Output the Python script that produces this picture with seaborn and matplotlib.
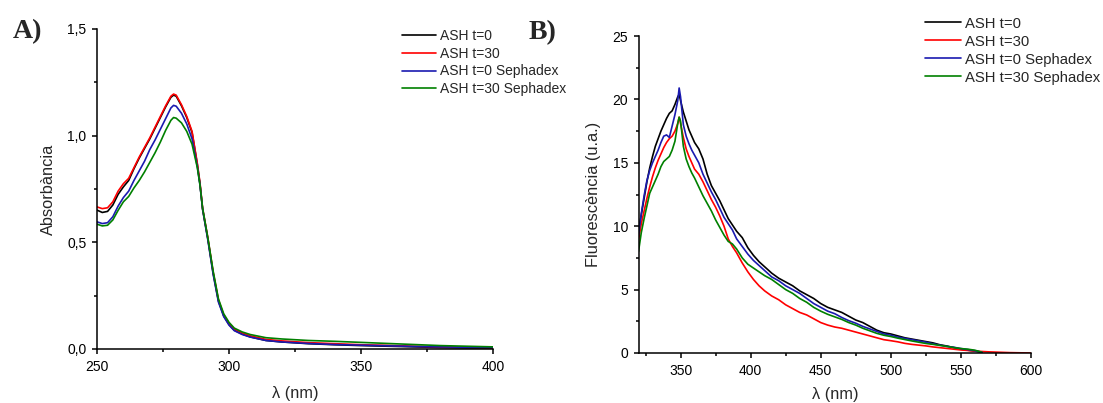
import numpy as np
import pandas as pd
import matplotlib
matplotlib.use("Agg")
import matplotlib.pyplot as plt
from matplotlib.ticker import MultipleLocator, FuncFormatter
import seaborn as sns

# ---- series definitions -------------------------------------------------
series_labels = ["ASH t=0", "ASH t=30", "ASH t=0 Sephadex", "ASH t=30 Sephadex"]
series_colors = ["#000000", "#ff0000", "#1a1ab0", "#008000"]

# ---- A) UV absorbance spectra ------------------------------------------
abs_wavelength = [250, 252, 254, 256, 258, 260, 262, 264, 266, 268, 270, 272, 274,
                  276, 278, 279, 280, 282, 284, 286, 288, 289, 290, 292, 294, 296,
                  298, 300, 302, 305, 308, 314, 320, 330, 340, 350, 360, 370, 380,
                  390, 400]
abs_t0 = [0.651, 0.640, 0.645, 0.675, 0.725, 0.760, 0.790, 0.845, 0.895, 0.940,
          0.985, 1.035, 1.085, 1.135, 1.180, 1.190, 1.185, 1.140, 1.085, 1.015,
          0.865, 0.775, 0.655, 0.515, 0.355, 0.225, 0.155, 0.115, 0.088, 0.070,
          0.057, 0.040, 0.033, 0.025, 0.020, 0.016, 0.013, 0.010, 0.007, 0.005,
          0.004]
abs_t30 = [0.666, 0.658, 0.662, 0.690, 0.740, 0.775, 0.800, 0.850, 0.900, 0.945,
           0.990, 1.040, 1.090, 1.140, 1.185, 1.195, 1.190, 1.145, 1.090, 1.020,
           0.870, 0.780, 0.660, 0.520, 0.360, 0.230, 0.160, 0.120, 0.093, 0.075,
           0.062, 0.045, 0.038, 0.030, 0.025, 0.020, 0.017, 0.013, 0.010, 0.008,
           0.006]
abs_t0_seph = [0.596, 0.588, 0.592, 0.620, 0.670, 0.710, 0.740, 0.790, 0.835, 0.880,
               0.935, 0.980, 1.030, 1.080, 1.130, 1.142, 1.138, 1.105, 1.055, 0.985,
               0.855, 0.770, 0.655, 0.510, 0.350, 0.220, 0.152, 0.112, 0.086, 0.068,
               0.056, 0.040, 0.033, 0.026, 0.021, 0.018, 0.015, 0.012, 0.010, 0.008,
               0.007]
abs_t30_seph = [0.585, 0.577, 0.580, 0.605, 0.650, 0.690, 0.715, 0.755, 0.790, 0.830,
                0.875, 0.920, 0.970, 1.025, 1.072, 1.085, 1.082, 1.060, 1.020, 0.960,
                0.850, 0.770, 0.660, 0.520, 0.365, 0.235, 0.165, 0.125, 0.098, 0.080,
                0.068, 0.053, 0.047, 0.040, 0.036, 0.031, 0.026, 0.021, 0.016, 0.013,
                0.010]

# ---- B) fluorescence emission spectra ----------------------------------
fluo_wavelength = [320, 322, 324, 326, 328, 330, 332, 334, 336, 338, 340, 342, 344,
                   346, 348, 349, 350, 352, 354, 356, 358, 360, 363, 366, 369, 372,
                   375, 378, 381, 384, 387, 390, 394, 398, 402, 406, 410, 415, 420,
                   425, 430, 435, 440, 445, 450, 455, 460, 465, 470, 475, 480, 485,
                   490, 495, 500, 505, 510, 515, 520, 525, 530, 535, 540, 545, 550,
                   555, 560, 565, 570, 575, 580, 585, 590, 595, 600]
fluo_t0 = [9.6, 10.9, 12.2, 13.5, 14.6, 15.5, 16.3, 16.9, 17.5, 18.0, 18.5, 18.9,
           19.1, 19.6, 20.2, 20.4, 19.9, 19.0, 18.3, 17.6, 17.1, 16.6, 16.1, 15.3,
           14.1, 13.2, 12.6, 12.0, 11.3, 10.6, 10.1, 9.6, 9.1, 8.3, 7.7, 7.2, 6.8,
           6.3, 5.9, 5.6, 5.3, 4.9, 4.6, 4.3, 3.9, 3.6, 3.4, 3.2, 2.9, 2.6, 2.4,
           2.1, 1.8, 1.6, 1.5, 1.35, 1.2, 1.1, 1.0, 0.9, 0.8, 0.65, 0.55, 0.42,
           0.3, 0.22, 0.15, 0.05]
fluo_t30 = [8.9, 10.2, 11.2, 12.2, 13.1, 13.9, 14.6, 15.2, 15.7, 16.2, 16.6, 16.9,
            17.1, 17.5, 18.1, 18.6, 18.1, 17.0, 16.1, 15.5, 15.0, 14.5, 14.1, 13.5,
            12.8, 12.1, 11.5, 10.8, 10.0, 9.0, 8.4, 7.9, 7.1, 6.4, 5.8, 5.3, 4.9,
            4.5, 4.2, 3.8, 3.5, 3.2, 3.0, 2.7, 2.4, 2.2, 2.05, 1.95, 1.8, 1.65, 1.5,
            1.35, 1.2, 1.05, 0.97, 0.88, 0.76, 0.68, 0.62, 0.56, 0.48, 0.42, 0.36,
            0.3, 0.24, 0.2, 0.15, 0.12, 0.09, 0.07, 0.05, 0.03, 0.02, 0.01, 0.0]
fluo_t0_seph = [9.3, 11.0, 12.4, 13.6, 14.4, 15.0, 15.5, 16.0, 16.6, 17.1, 17.2,
                17.0, 17.9, 18.8, 19.9, 20.9, 20.2, 18.0, 17.1, 16.5, 16.0, 15.6,
                15.0, 14.1, 13.4, 12.7, 12.1, 11.4, 10.7, 10.2, 9.7, 9.0, 8.4, 7.8,
                7.3, 6.9, 6.5, 6.0, 5.7, 5.3, 5.0, 4.7, 4.3, 3.9, 3.6, 3.3, 3.1, 2.8,
                2.55, 2.35, 2.1, 1.9, 1.7, 1.5, 1.4, 1.25, 1.15, 1.05, 0.95, 0.85,
                0.72, 0.62, 0.52, 0.45, 0.35, 0.27, 0.18, 0.06]
fluo_t30_seph = [8.0, 9.5, 10.6, 11.6, 12.6, 13.1, 13.6, 14.1, 14.7, 15.1, 15.3,
                 15.5, 16.0, 16.7, 18.1, 18.6, 18.3, 16.3, 15.3, 14.7, 14.2, 13.8,
                 13.1, 12.4, 11.8, 11.2, 10.5, 9.9, 9.3, 8.8, 8.6, 8.2, 7.5, 7.0,
                 6.7, 6.4, 6.1, 5.8, 5.4, 5.0, 4.7, 4.3, 4.0, 3.6, 3.3, 3.05, 2.85,
                 2.65, 2.4, 2.2, 1.95, 1.75, 1.55, 1.4, 1.3, 1.17, 1.06, 0.95, 0.85,
                 0.75, 0.68, 0.6, 0.52, 0.43, 0.35, 0.3, 0.22, 0.06]


def long_table(wavelength, columns):
    frames = []
    for label, values in zip(series_labels, columns):
        n = len(values)
        frames.append(pd.DataFrame({"wl": wavelength[:n], "val": values,
                                    "serie": label}))
    return pd.concat(frames, ignore_index=True)


abs_df = long_table(abs_wavelength, [abs_t0, abs_t30, abs_t0_seph, abs_t30_seph])
fluo_df = long_table(fluo_wavelength, [fluo_t0, fluo_t30, fluo_t0_seph, fluo_t30_seph])

# ---- style ---------------------------------------------------------------
sns.set_theme(style="ticks")
plt.rcParams["font.family"] = ["Liberation Sans", "DejaVu Sans"]
plt.rcParams["axes.linewidth"] = 1.1
for ax_name in ("xtick", "ytick"):
    plt.rcParams[f"{ax_name}.major.width"] = 1.1
    plt.rcParams[f"{ax_name}.minor.width"] = 1.1
    plt.rcParams[f"{ax_name}.major.size"] = 3.6
    plt.rcParams[f"{ax_name}.minor.size"] = 2.2
    plt.rcParams[f"{ax_name}.direction"] = "out"
    plt.rcParams[f"{ax_name}.color"] = "black"
    plt.rcParams[f"{ax_name}.labelcolor"] = "black"
plt.rcParams["axes.edgecolor"] = "black"

W, H = 1103, 403
fig = plt.figure(figsize=(W / 100, H / 100), dpi=100)
palette = dict(zip(series_labels, series_colors))


def px_axes(left, top, right, bottom):
    return fig.add_axes([left / W, 1 - bottom / H, (right - left) / W, (bottom - top) / H])


ax_a = px_axes(97, 29, 493, 349)
ax_b = px_axes(638.5, 36, 1031, 353)

for ax, df, lpad in ((ax_a, abs_df, 9.0), (ax_b, fluo_df, 7.0)):
    sns.lineplot(data=df, x="wl", y="val", hue="serie", hue_order=series_labels,
                 palette=palette, estimator=None, sort=False, linewidth=1.2,
                 ax=ax, legend=True)
    sns.despine(ax=ax)
    ax.tick_params(axis="both", which="major", labelsize=10, pad=4)
    ax.set_xlabel("λ (nm)", fontsize=11.8, labelpad=lpad)

comma = FuncFormatter(lambda v, pos: f"{v:.1f}".replace(".", ","))

ax_a.set_xlim(250, 400)
ax_a.set_ylim(0, 1.5)
ax_a.xaxis.set_major_locator(MultipleLocator(50))
ax_a.xaxis.set_minor_locator(MultipleLocator(25))
ax_a.yaxis.set_major_locator(MultipleLocator(0.5))
ax_a.yaxis.set_minor_locator(MultipleLocator(0.25))
ax_a.yaxis.set_major_formatter(comma)
ax_a.set_ylabel("Absorbància", fontsize=11.8, labelpad=8)

ax_b.set_xlim(320, 600)
ax_b.set_ylim(0, 25)
ax_b.xaxis.set_major_locator(MultipleLocator(50))
ax_b.xaxis.set_minor_locator(MultipleLocator(25))
ax_b.yaxis.set_major_locator(MultipleLocator(5))
ax_b.yaxis.set_minor_locator(MultipleLocator(2.5))
ax_b.set_ylabel("Fluorescència (u.a.)", fontsize=11.8, labelpad=8)

# legends placed in figure coordinates, no frame
for ax, x0, y0, fs in ((ax_a, 402, 29, 10.0), (ax_b, 925, 16.5, 10.7)):
    handles, labels = ax.get_legend_handles_labels()
    ax.get_legend().remove()
    ax.legend(handles, labels, loc="upper left",
              bbox_to_anchor=(x0 / W, 1 - y0 / H), bbox_transform=fig.transFigure,
              frameon=False, fontsize=fs, handlelength=2.45, handletextpad=0.25,
              labelspacing=0.27, borderpad=0, borderaxespad=0)

fig.text(13 / W, 1 - 38 / H, "A)", fontfamily="Liberation Serif",
         fontweight="bold", fontsize=20, va="baseline")
fig.text(529 / W, 1 - 39 / H, "B)", fontfamily="Liberation Serif",
         fontweight="bold", fontsize=20, va="baseline")

fig.savefig("out.png", dpi=100, facecolor="white")
